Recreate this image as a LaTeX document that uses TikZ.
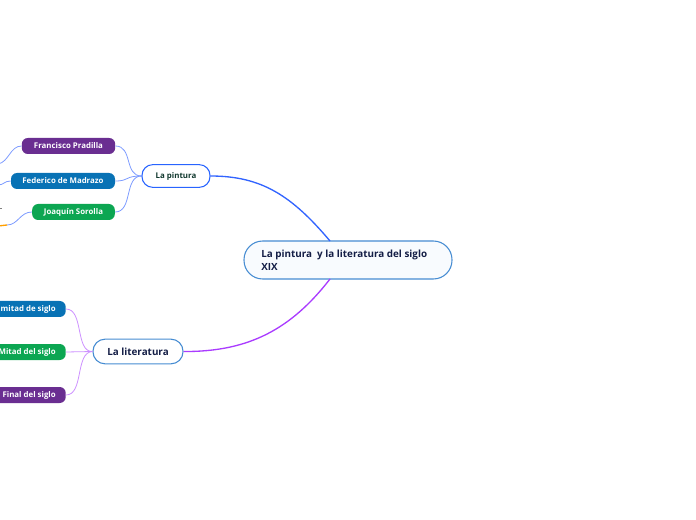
\documentclass[tikz,border=0pt]{standalone}
\usepackage{fontspec}
\setmainfont{Open Sans}
\definecolor{cpurple}{RGB}{106,46,145}
\definecolor{cblue}{RGB}{8,114,181}
\definecolor{cgreen}{RGB}{12,166,82}
\definecolor{lnpint}{RGB}{125,155,255}
\definecolor{lnmainp}{RGB}{50,100,255}
\definecolor{lnmainl}{RGB}{170,60,255}
\definecolor{lnlit}{RGB}{205,145,255}
\definecolor{mainborder}{RGB}{70,140,210}
\definecolor{pintborder}{RGB}{40,100,255}
\definecolor{navytext}{RGB}{20,30,70}
\definecolor{greentext}{RGB}{15,55,45}
\definecolor{corange}{RGB}{255,160,0}
\begin{document}
\begin{tikzpicture}[x=0.75pt,y=-0.75pt,
  child/.style={rounded corners=4.5pt, text=white, font=\bfseries\fontsize{5.9}{7}\selectfont,
     minimum height=12pt, inner sep=0pt, align=center},
  topic/.style={draw, line width=0.8pt, fill=white, rounded corners=9pt, inner sep=0pt},
  mainline/.style={line width=1pt},
  subline/.style={line width=0.6pt}]
\useasboundingbox (0,0) rectangle (696,520);
\clip (0,0) rectangle (696,520);
% main topic
\node[topic, draw=mainborder, fill={rgb,255:red,248;green,251;blue,254}, rounded corners=14pt,
      minimum width=156pt, minimum height=28.5pt] (main) at (348,260) {};
\node[anchor=west, align=left, text=navytext, font=\bfseries\fontsize{7.4}{9.8}\selectfont, inner sep=0pt]
      (maintext) at (261,260.5) {La pintura\ \ y la literatura del siglo\\XIX};
% second level
\node[topic, draw=pintborder, minimum width=51pt, minimum height=17pt, rounded corners=8pt,
      text=greentext, font=\bfseries\fontsize{5.9}{7}\selectfont] (pint) at (176,176) {La pintura};
\node[topic, draw=mainborder, minimum width=67.5pt, minimum height=18.5pt, rounded corners=9pt,
      text=navytext, font=\bfseries\fontsize{7.4}{9}\selectfont] (lit) at (138,351.5) {La literatura};
% pintura children
\node[child, fill=cpurple, minimum width=70pt] (fran) at (68.5,146) {Francisco Pradilla};
\node[child, fill=cblue, minimum width=78pt] (fede) at (63,181) {Federico de Madrazo};
\node[child, fill=cgreen, minimum width=62pt] (joaq) at (73.5,212) {Joaquín Sorolla};
% literatura children
\node[child, fill=cblue, anchor=east, inner xsep=7.5pt] (prim) at (66,309) {mitad de siglo};
\node[child, fill=cgreen, anchor=east, inner xsep=7.5pt] (mitad) at (66,352) {Mitad del siglo};
\node[child, fill=cpurple, anchor=east, inner xsep=7.5pt] (final) at (66,395) {Final del siglo};
% off-canvas ends
\coordinate (franoff) at (-2,164);
\coordinate (fedeoff) at (-2,185);
\coordinate (joaqoff) at (7,225);
\coordinate (orangeA) at (-2,226);
\coordinate (grayA) at (-2,208);
\coordinate (grayB) at (2,208);
% main connectors
\draw[mainline, lnmainp] (330,241) .. controls (292,196) and (262,176) .. (pint.east);
\draw[mainline, lnmainl] (330,279) .. controls (292,328) and (250,352) .. (lit.east);
% pintura children connectors
\draw[subline, lnpint] (pint.west) .. controls (124,176) and (133,146) .. (fran.east);
\draw[subline, lnpint] (pint.west) .. controls (124,176) and (130,181) .. (fede.east);
\draw[subline, lnpint] (pint.west) .. controls (124,176) and (133,212) .. (joaq.east);
% literatura children connectors
\draw[subline, lnlit] (lit.west) .. controls (75,352) and (84,309) .. (prim.east);
\draw[subline, lnlit] (lit.west) -- (mitad.east);
\draw[subline, lnlit] (lit.west) .. controls (75,352) and (84,395) .. (final.east);
% stubs to off-canvas nodes
\draw[subline, lnpint] (fran.west) .. controls (10,146) and (9,162) .. (franoff);
\draw[subline, lnpint] (fede.west) .. controls (4,181) and (4,185) .. (fedeoff);
\draw[subline, lnpint] (joaq.west) .. controls (20,212) and (18,225) .. (joaqoff);
\draw[line width=1pt, corange] (orangeA) -- (joaqoff);
\draw[subline, gray] (grayA) -- (grayB);
\end{tikzpicture}
\end{document}
